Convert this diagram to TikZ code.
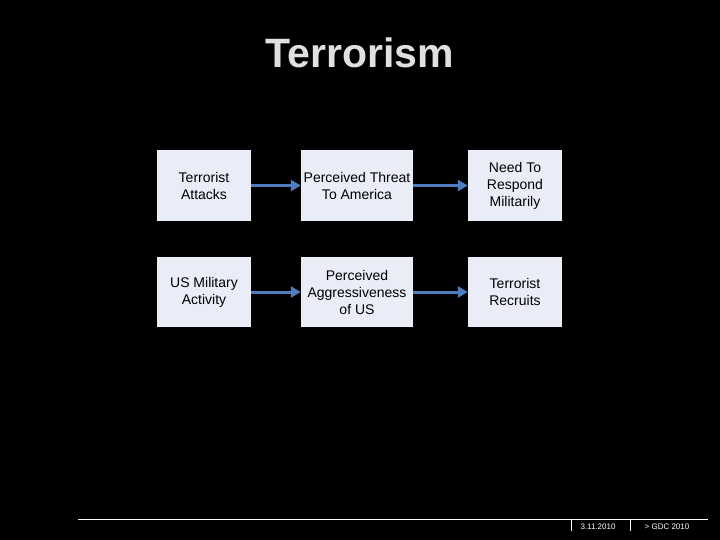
\documentclass[tikz,border=0pt]{standalone}
\usepackage{fontspec}
\setmainfont{Liberation Sans}
\usetikzlibrary{arrows.meta}
\definecolor{boxfill}{HTML}{E9EDF7}
\definecolor{arr}{HTML}{4F7CBE}
\begin{document}
\begin{tikzpicture}[x=1pt,y=-1pt,
  bx/.style={fill=boxfill,draw=none,align=center,font=\fontsize{14}{17}\selectfont,inner sep=0pt},
  ar/.style={arr,line width=3pt,-{Triangle[length=10pt,width=11pt]}}]
\fill[black] (0,0) rectangle (720,540);
\useasboundingbox (0,0) rectangle (720,540);
\node[font=\bfseries\fontsize{41}{44}\selectfont,text=white!88!black] (title) at (360,53) {Terrorism};
\node[bx,minimum width=94pt,minimum height=71pt] (a) at (204,185.5) {Terrorist\\Attacks};
\node[bx,minimum width=112pt,minimum height=71pt] (b) at (357,185.5) {Perceived Threat\\To America};
\node[bx,minimum width=94pt,minimum height=71pt] (c) at (515,185.5) {Need To\\Respond\\Militarily};
\node[bx,minimum width=94pt,minimum height=70pt] (d) at (204,292) {US Military\\Activity};
\node[bx,minimum width=112pt,minimum height=70pt] (e) at (357,292) {Perceived\\Aggressiveness\\of US};
\node[bx,minimum width=94pt,minimum height=70pt] (f) at (515,292) {Terrorist\\Recruits};
\draw[ar] (a) -- (b);
\draw[ar] (b) -- (c);
\draw[ar] (d) -- (e);
\draw[ar] (e) -- (f);
\coordinate (l1) at (78,519); \coordinate (l2) at (708,519);
\draw[white,line width=0.8pt] (l1) -- (l2);
\coordinate (t1) at (571,519); \coordinate (t1b) at (571,531);
\coordinate (t2) at (630,519); \coordinate (t2b) at (630,531);
\draw[white,line width=0.8pt] (t1) -- (t1b) (t2) -- (t2b);
\node[text=white,font=\fontsize{8}{9}\selectfont] (date) at (598,527) {3.11.2010};
\node[text=white,font=\fontsize{8}{9}\selectfont] (org) at (667,527) {> GDC 2010};
\end{tikzpicture}
\end{document}
